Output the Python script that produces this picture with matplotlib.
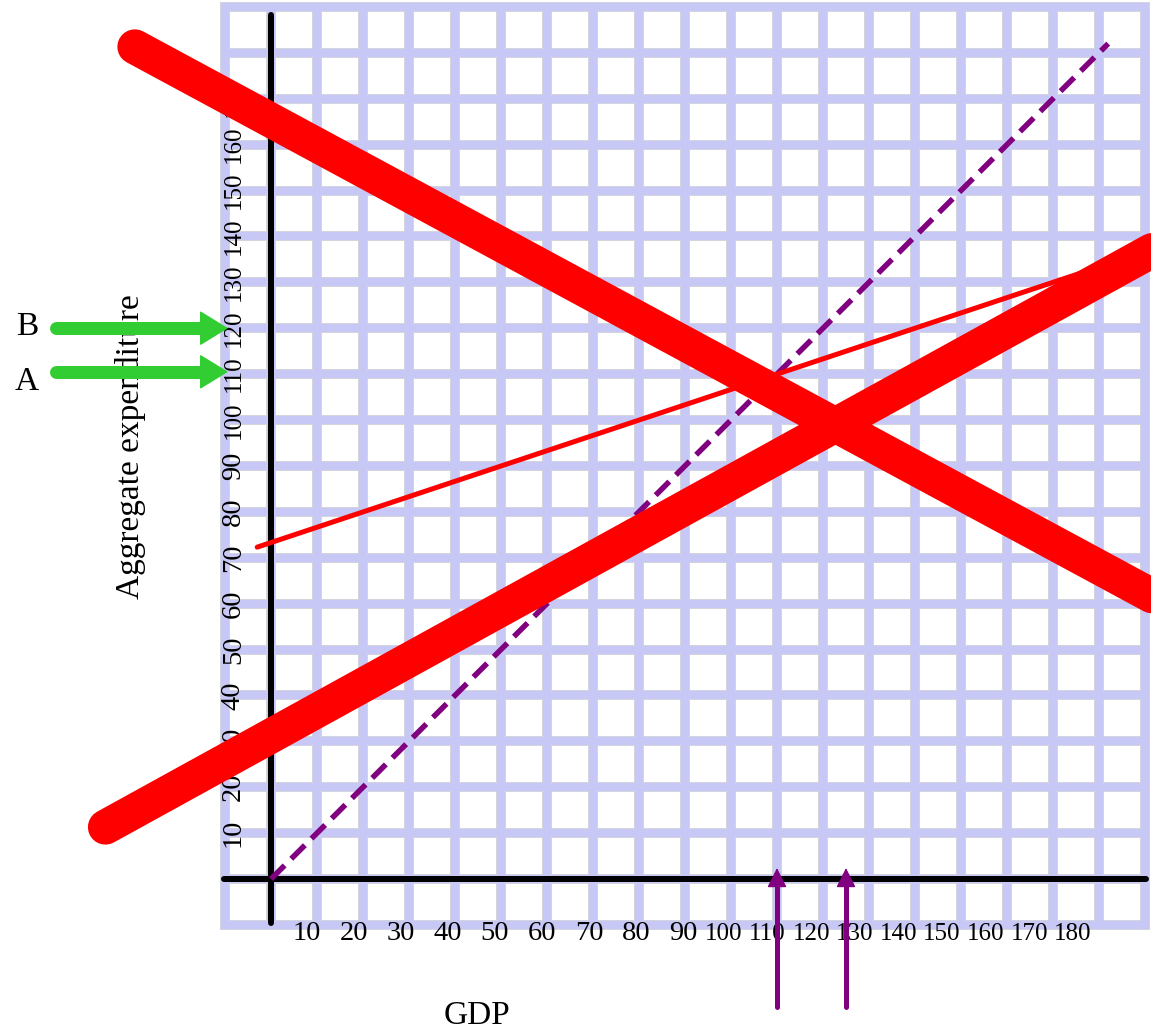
import matplotlib
matplotlib.use("Agg")
import numpy as np
import matplotlib.pyplot as plt

# --- data --------------------------------------------------------------
gdp_ticks = [10, 20, 30, 40, 50, 60, 70, 80, 90, 100, 110, 120, 130, 140, 150, 160, 170, 180]
ae_ticks = [10, 20, 30, 40, 50, 60, 70, 80, 90, 100, 110, 120, 130, 140, 150, 160, 170]
grid_values = list(range(-10, 200, 10))

# 45 degree line (dashed purple)
line45_x = [0, 182]
line45_y = [0, 182]

# thin red aggregate expenditure line
ae_x = [-3, 176]
ae_y = [72.3, 132.0]

# thick red "X"
rise_x = [-36.0, 200.0]
rise_y = [11.3, 141.6]
fall_x = [-29.6, 200.0]
fall_y = [181.3, 57.1]

# green markers on the expenditure axis
marker_names = ["B", "A"]
marker_levels = [120.0, 110.5]
marker_label_y = [118.5, 106.5]

# purple markers on the GDP axis
gdp_marks = [110, 125]

# --- pixel geometry of the reference ----------------------------------
W, H = 1151, 1036
X0, Y0 = 271, 879          # pixel position of the origin
SX, SY = 4.6, 4.59         # pixels per unit

LAVENDER = "#c8c8f7"
EDGE = "#d4d4dc"
RED = "#ff0000"
PURPLE = "#800080"
GREEN = "#32cd32"
PT = 0.72                  # points per pixel at dpi 100

plt.rcParams["font.family"] = ["Liberation Serif", "DejaVu Serif"]

fig = plt.figure(figsize=(W / 100, H / 100), dpi=100)
ax = fig.add_axes([0, 0, 1, 1])
ax.set_xlim(-X0 / SX, (W - X0) / SX)
ax.set_ylim(-(H - Y0) / SY, Y0 / SY)
ax.axis("off")

lo, hi = grid_values[0], grid_values[-1]

# grid: grey underlay then lavender on top
for v in grid_values:
    ax.plot([v, v], [lo, hi], color=EDGE, lw=10 * PT, solid_capstyle="projecting", zorder=1)
    ax.plot([lo, hi], [v, v], color=EDGE, lw=10 * PT, solid_capstyle="projecting", zorder=1)
for v in grid_values:
    ax.plot([v, v], [lo, hi], color=LAVENDER, lw=8 * PT, solid_capstyle="projecting", zorder=1.1)
    ax.plot([lo, hi], [v, v], color=LAVENDER, lw=8 * PT, solid_capstyle="projecting", zorder=1.1)

# axes lines
ax.plot([0, 0], [-9.6, 188.2], color="black", lw=6 * PT, solid_capstyle="round", zorder=3)
ax.plot([-10.2, 190.2], [0, 0], color="black", lw=6 * PT, solid_capstyle="round", zorder=3)


# tick labels (3 digit labels are squeezed in the reference)
def gdp_label_x(v):
    if v < 100:
        return (307 - X0) / SX + (v - 10) / 10 * 47 / SX
    return (724 - X0) / SX + (v - 100) / 10 * 43.6 / SX


for v in gdp_ticks:
    ax.text(gdp_label_x(v), -(940 - Y0) / SY, str(v), ha="center", va="baseline",
            fontsize=20.5 if v < 100 else 18, zorder=2)

for v in ae_ticks:
    ax.text(-(X0 - 240) / SX, v, str(v), rotation=90, rotation_mode="anchor",
            ha="center", va="baseline", fontsize=20.5 if v < 100 else 18, zorder=2)

# axis titles and markers
ax.text(-(X0 - 139) / SX, 94.2, "Aggregate expenditure", rotation=90,
        rotation_mode="anchor", ha="center", va="baseline", fontsize=24, zorder=2)
ax.text((477 - X0) / SX, -(1024 - Y0) / SY, "GDP", ha="center", va="baseline",
        fontsize=24, zorder=2)

# lines
ax.plot(line45_x, line45_y, color=PURPLE, lw=5.5 * PT, dashes=(3.5, 1.7),
        dash_capstyle="butt", zorder=4)
ax.plot(ae_x, ae_y, color=RED, lw=5 * PT, solid_capstyle="round", zorder=5)
ax.plot(rise_x, rise_y, color=RED, lw=35 * PT, solid_capstyle="round", zorder=6)
ax.plot(fall_x, fall_y, color=RED, lw=35 * PT, solid_capstyle="round", zorder=6)


def arrow(tail, tip, color, shaft_px, head_len_px, head_half_px, unit):
    tail = np.array(tail, float)
    tip = np.array(tip, float)
    d = tip - tail
    d = d / np.hypot(*d)
    base = tip - d * 0.6 * head_len_px / unit
    ax.plot([tail[0], base[0]], [tail[1], base[1]], color=color, lw=shaft_px * PT,
            solid_capstyle="round", zorder=7)
    ax.annotate("", xy=tip, xytext=tail, zorder=7,
                arrowprops=dict(arrowstyle="-|>,head_length=%.1f,head_width=%.1f"
                                % (head_len_px * PT, head_half_px * PT),
                                mutation_scale=1, color=color, lw=1,
                                shrinkA=0, shrinkB=0))


# green arrows pointing at the expenditure axis
green_tail_x = -(X0 - 56) / SX
green_tip_x = -(X0 - 228) / SX
for name, level, ly in zip(marker_names, marker_levels, marker_label_y):
    arrow((green_tail_x, level), (green_tip_x, level), GREEN, 13, 26, 16, SX)
    ax.text(-(X0 - 27) / SX, ly, name, ha="center", va="baseline", fontsize=24, zorder=2)

# purple arrows pointing at the GDP axis
for g in gdp_marks:
    arrow((g, -(1007 - Y0) / SY), (g, (Y0 - 868) / SY), PURPLE, 5, 17, 8.5, SY)

fig.savefig("out.png", dpi=100)
